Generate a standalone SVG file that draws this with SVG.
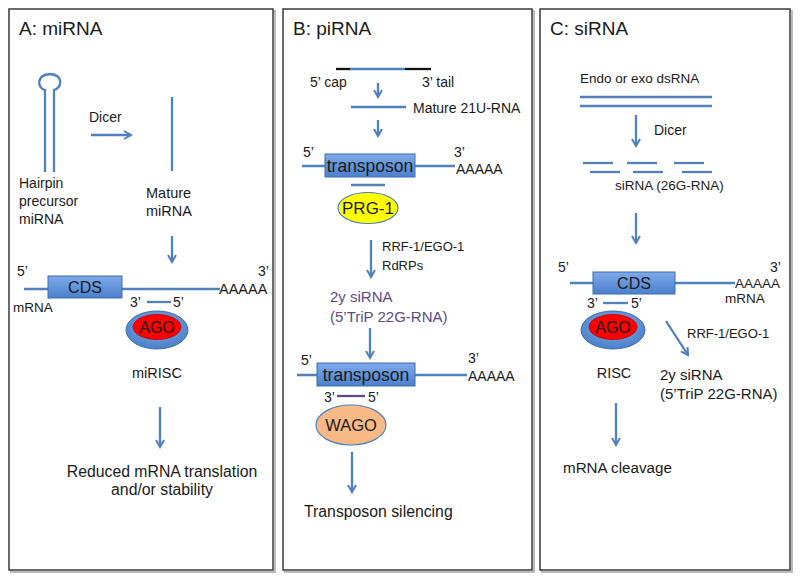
<svg xmlns="http://www.w3.org/2000/svg" width="800" height="580" viewBox="0 0 800 580">
<defs>
<style>
.t{font-family:"Liberation Sans",Arial,sans-serif;fill:#1a1a1a}
.ln{stroke:#4f81bd;stroke-width:2.3;fill:none}
.ar{stroke:#4f81bd;stroke-width:2.3;fill:none;marker-end:url(#ah)}
.pn{fill:#fff;stroke:#3a3a3a;stroke-width:1.5}
.sh{fill:none;stroke:#bbb;stroke-width:2}
.box{fill:url(#bg);stroke:#3d6eb0;stroke-width:1}
.pu{fill:#5c4a86}
</style>
<marker id="ah" viewBox="0 0 10 10" refX="8" refY="5" markerWidth="10" markerHeight="10" markerUnits="userSpaceOnUse" orient="auto">
<path d="M1,1 L8,5 L1,9" fill="none" stroke="#4f81bd" stroke-width="2"/>
</marker>
<linearGradient id="bg" x1="0" y1="0" x2="0" y2="1">
<stop offset="0" stop-color="#7eaaea"/>
<stop offset="1" stop-color="#4b80cc"/>
</linearGradient>
<radialGradient id="eg" cx="0.5" cy="0.4" r="0.6">
<stop offset="0" stop-color="#86b0ea"/>
<stop offset="1" stop-color="#4a7fc8"/>
</radialGradient>
</defs>

<g id="panels">
<rect class="sh" x="11" y="11" width="264" height="561"/>
<rect class="pn" x="9" y="9" width="264" height="561"/>
<rect class="sh" x="285" y="11" width="249" height="561"/>
<rect class="pn" x="283" y="9" width="249" height="561"/>
<rect class="sh" x="542" y="11" width="250" height="561"/>
<rect class="pn" x="540" y="9" width="250" height="561"/>
<text class="t" x="19" y="35" font-size="19">A: miRNA</text>
<text class="t" x="293" y="35" font-size="19">B: piRNA</text>
<text class="t" x="550" y="35" font-size="19">C: siRNA</text>
</g>

<g id="connectors">
<line class="ar" x1="91" y1="135" x2="131" y2="135"/>
<line class="ar" x1="172" y1="236" x2="172" y2="262"/>
<line class="ar" x1="160" y1="407" x2="160" y2="447"/>
<line class="ar" x1="378" y1="83" x2="378" y2="97"/>
<line class="ar" x1="378" y1="120" x2="378" y2="136"/>
<line class="ar" x1="371" y1="240" x2="371" y2="277"/>
<line class="ar" x1="370" y1="328" x2="370" y2="358"/>
<line class="ar" x1="352" y1="452" x2="352" y2="492"/>
<line class="ar" x1="636" y1="115" x2="636" y2="146"/>
<line class="ar" x1="636" y1="213" x2="636" y2="243"/>
<line class="ar" x1="666" y1="321" x2="688" y2="355"/>
<line class="ar" x1="616" y1="403" x2="616" y2="445"/>
</g>

<g id="hairpin">
<path class="ln" d="M45,172 L45,90 C37,88 36,75 50,74 C64,75 62,88 54,90 L54,172"/>
<text class="t" x="19" y="188" font-size="14">Hairpin</text>
<text class="t" x="19" y="206" font-size="14">precursor</text>
<text class="t" x="19" y="224" font-size="14">miRNA</text>
</g>
<g id="dicer-a"><text class="t" x="89" y="122" font-size="14">Dicer</text></g>
<g id="mature-mirna">
<line class="ln" x1="172" y1="97" x2="172" y2="171"/>
<text class="t" x="146" y="198" font-size="14.5">Mature</text>
<text class="t" x="146" y="216" font-size="14.5">miRNA</text>
</g>
<g id="mrna-a">
<line class="ln" x1="24" y1="289" x2="220" y2="289"/>
<rect class="box" x="48" y="276" width="74" height="22"/>
<text class="t" x="85" y="293" font-size="16" text-anchor="middle">CDS</text>
<text class="t" x="17" y="276" font-size="14">5’</text>
<text class="t" x="258" y="276" font-size="14">3’</text>
<text class="t" x="219" y="294" font-size="14.5">AAAAA</text>
<text class="t" x="13" y="312" font-size="13.5">mRNA</text>
</g>
<g id="mirisc">
<text class="t" x="130" y="307" font-size="14">3’</text>
<line class="ln" x1="147" y1="302" x2="171" y2="302"/>
<text class="t" x="173" y="307" font-size="14">5’</text>
<ellipse cx="157" cy="330" rx="31" ry="19" fill="url(#eg)" stroke="#3d6eb0" stroke-width="1"/>
<ellipse cx="157" cy="327" rx="24" ry="12.5" fill="#f00" stroke="#b00" stroke-width="0.8"/>
<text class="t" x="157" y="333" font-size="16" text-anchor="middle">AGO</text>
<text class="t" x="157" y="378" font-size="14.5" text-anchor="middle">miRISC</text>
</g>
<g id="outcome-a">
<text class="t" x="162" y="477" font-size="15.8" text-anchor="middle">Reduced mRNA translation</text>
<text class="t" x="162" y="495" font-size="15.8" text-anchor="middle">and/or stability</text>
</g>

<g id="precursor-b">
<line x1="336" y1="69" x2="350" y2="69" stroke="#111" stroke-width="2.3"/>
<line class="ln" x1="350" y1="69" x2="405" y2="69"/>
<line x1="405" y1="69" x2="431" y2="69" stroke="#111" stroke-width="2.3"/>
<text class="t" x="310" y="87" font-size="14">5’ cap</text>
<text class="t" x="422" y="87" font-size="14">3’ tail</text>
</g>
<g id="mature-21u">
<line class="ln" x1="351" y1="107" x2="406" y2="107"/>
<text class="t" x="413" y="113" font-size="14">Mature 21U-RNA</text>
</g>
<g id="transposon-1">
<line class="ln" x1="302" y1="166" x2="455" y2="166"/>
<rect class="box" x="325" y="154" width="90" height="23"/>
<text class="t" x="370" y="172" font-size="17.5" text-anchor="middle">transposon</text>
<text class="t" x="303" y="157" font-size="14">5’</text>
<text class="t" x="454" y="157" font-size="14">3’</text>
<text class="t" x="456" y="174" font-size="14">AAAAA</text>
<line class="ln" x1="351" y1="185" x2="385" y2="185"/>
</g>
<g id="prg1">
<ellipse cx="368" cy="208" rx="30" ry="15.5" fill="#ffff00" stroke="#4f81bd" stroke-width="1.2"/>
<text class="t" x="368" y="214" font-size="17" text-anchor="middle">PRG-1</text>
</g>
<g id="rdrps">
<text class="t" x="382" y="251" font-size="13">RRF-1/EGO-1</text>
<text class="t" x="382" y="270" font-size="13">RdRPs</text>
</g>
<g id="sirna-2y-b">
<text class="t pu" x="330" y="302" font-size="15">2y siRNA</text>
<text class="t pu" x="330" y="322" font-size="15">(5’TriP 22G-RNA)</text>
</g>
<g id="transposon-2">
<line class="ln" x1="297" y1="375" x2="467" y2="375"/>
<rect class="box" x="317" y="363" width="98" height="23"/>
<text class="t" x="366" y="381" font-size="17.5" text-anchor="middle">transposon</text>
<text class="t" x="301" y="365" font-size="14">5’</text>
<text class="t" x="468" y="363" font-size="14">3’</text>
<text class="t" x="468" y="381" font-size="14">AAAAA</text>
</g>
<g id="wago">
<text class="t" x="324" y="402" font-size="14">3’</text>
<line x1="337" y1="396" x2="365" y2="396" stroke="#5c4a86" stroke-width="2.3"/>
<text class="t" x="368" y="402" font-size="14">5’</text>
<ellipse cx="351" cy="425" rx="35" ry="20" fill="#f9b987" stroke="#4f81bd" stroke-width="1.2"/>
<text class="t" x="351" y="431" font-size="16.5" text-anchor="middle">WAGO</text>
</g>
<g id="outcome-b"><text class="t" x="304" y="517" font-size="15.8">Transposon silencing</text></g>

<g id="dsrna">
<text class="t" x="580" y="83" font-size="13.5">Endo or exo dsRNA</text>
<line class="ln" x1="580" y1="97" x2="712" y2="97"/>
<line class="ln" x1="580" y1="106" x2="712" y2="106"/>
</g>
<g id="dicer-c"><text class="t" x="654" y="135" font-size="14">Dicer</text></g>
<g id="sirna-26g">
<line class="ln" x1="583" y1="163" x2="613" y2="163"/>
<line class="ln" x1="627" y1="163" x2="657" y2="163"/>
<line class="ln" x1="674" y1="163" x2="704" y2="163"/>
<line class="ln" x1="590" y1="172" x2="620" y2="172"/>
<line class="ln" x1="633" y1="172" x2="663" y2="172"/>
<line class="ln" x1="682" y1="172" x2="712" y2="172"/>
<text class="t" x="615" y="190" font-size="13.5">siRNA (26G-RNA)</text>
</g>
<g id="mrna-c">
<line class="ln" x1="570" y1="283" x2="735" y2="283"/>
<rect class="box" x="593" y="272" width="82" height="22"/>
<text class="t" x="634" y="289" font-size="16" text-anchor="middle">CDS</text>
<text class="t" x="558" y="272" font-size="14">5’</text>
<text class="t" x="770" y="272" font-size="14">3’</text>
<text class="t" x="735" y="288" font-size="13.5">AAAAA</text>
<text class="t" x="725" y="303" font-size="13.5">mRNA</text>
</g>
<g id="risc">
<text class="t" x="587" y="308" font-size="14">3’</text>
<line class="ln" x1="603" y1="303" x2="628" y2="303"/>
<text class="t" x="631" y="308" font-size="14">5’</text>
<ellipse cx="613" cy="330" rx="32" ry="19" fill="url(#eg)" stroke="#3d6eb0" stroke-width="1"/>
<ellipse cx="613" cy="327" rx="24" ry="12.5" fill="#f00" stroke="#b00" stroke-width="0.8"/>
<text class="t" x="613" y="333" font-size="16" text-anchor="middle">AGO</text>
<text class="t" x="614" y="378" font-size="14.5" text-anchor="middle">RISC</text>
</g>
<g id="rrf-c"><text class="t" x="687" y="338" font-size="13">RRF-1/EGO-1</text></g>
<g id="sirna-2y-c">
<text class="t" x="660" y="380" font-size="15">2y siRNA</text>
<text class="t" x="660" y="399" font-size="15">(5’TriP 22G-RNA)</text>
</g>
<g id="outcome-c"><text class="t" x="563" y="473" font-size="15.2">mRNA cleavage</text></g>
</svg>
